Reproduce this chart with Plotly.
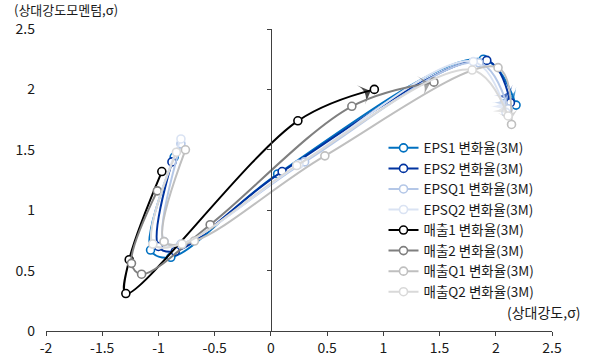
import plotly.graph_objects as go

# Relative-strength (x) vs. relative-strength momentum (y) trails, oldest point first
series_names = [
    "EPS1 변화율(3M)", "EPS2 변화율(3M)", "EPSQ1 변화율(3M)", "EPSQ2 변화율(3M)",
    "매출1 변화율(3M)", "매출2 변화율(3M)", "매출Q1 변화율(3M)", "매출Q2 변화율(3M)",
]
series_colors = ["#0070C0", "#0033A0", "#B4C7E7", "#DAE3F3",
                 "#000000", "#7F7F7F", "#BFBFBF", "#D9D9D9"]

eps1_x = [-0.86, -1.07, -0.89, 0.06, 1.89, 2.18]
eps1_y = [1.44, 0.67, 0.61, 1.30, 2.25, 1.87]
eps2_x = [-0.88, -1.00, -0.85, 0.10, 1.92, 2.13]
eps2_y = [1.40, 0.70, 0.66, 1.32, 2.24, 1.89]
epsq1_x = [-0.80, -0.95, -0.80, 0.30, 1.85, 2.11]
epsq1_y = [1.55, 0.74, 0.72, 1.40, 2.22, 1.84]
epsq2_x = [-0.80, -1.05, -0.79, 0.25, 1.80, 2.09]
epsq2_y = [1.59, 0.72, 0.72, 1.38, 2.23, 1.81]
sales1_x = [-0.97, -1.26, -1.29, 0.24, 0.92]
sales1_y = [1.32, 0.59, 0.31, 1.74, 2.00]
sales2_x = [-1.01, -1.24, -1.15, -0.54, 0.72, 1.45]
sales2_y = [1.16, 0.56, 0.47, 0.88, 1.86, 2.06]
salesq1_x = [-0.76, -0.95, -0.68, 0.48, 2.02, 2.14]
salesq1_y = [1.50, 0.74, 0.745, 1.45, 2.18, 1.71]
salesq2_x = [-0.84, -1.05, -0.79, 0.23, 1.79, 2.11]
salesq2_y = [1.48, 0.72, 0.72, 1.37, 2.16, 1.78]

xs = [eps1_x, eps2_x, epsq1_x, epsq2_x, sales1_x, sales2_x, salesq1_x, salesq2_x]
ys = [eps1_y, eps2_y, epsq1_y, epsq2_y, sales1_y, sales2_y, salesq1_y, salesq2_y]

x_ticks = [-2, -1.5, -1, -0.5, 0, 0.5, 1, 1.5, 2, 2.5]
x_tick_text = ["-2", "-1.5", "-1", "-0.5", "0", "0.5", "1", "1.5", "2", "2.5"]
y_ticks = [0, 0.5, 1, 1.5, 2, 2.5]
y_tick_text = ["0", "0.5", "1", "1.5", "2", "2.5"]

FONT = "Noto Sans CJK KR, Noto Sans, sans-serif"
AXIS_COLOR = "#404040"
TEXT_COLOR = "#1a1a1a"

fig = go.Figure()

for name, color, x, y in zip(series_names, series_colors, xs, ys):
    # smoothed trail with hollow circle markers
    fig.add_trace(go.Scatter(
        x=x, y=y, name=name, mode="lines+markers",
        line=dict(color=color, width=2, shape="spline", smoothing=1),
        marker=dict(symbol="circle", size=8, color="white",
                    line=dict(color=color, width=1.6)),
    ))
    # arrowhead pointing into the latest point
    fig.add_trace(go.Scatter(
        x=x[-2:], y=y[-2:], mode="markers", showlegend=False, hoverinfo="skip",
        marker=dict(symbol="arrow-wide", size=[0, 15], color=color,
                    angleref="previous", standoff=4,
                    line=dict(width=0)),
    ))

# helper trace so the axis through x = 0 is drawn
fig.add_trace(go.Scatter(x=[None], y=[None], yaxis="y2", showlegend=False,
                         hoverinfo="skip"))

fig.update_layout(
    width=589, height=362,
    margin=dict(l=46, r=37, t=29, b=31, autoexpand=False),
    paper_bgcolor="white", plot_bgcolor="white",
    font=dict(family=FONT, size=14, color=TEXT_COLOR),
    showlegend=True,
    legend=dict(
        x=0.667, y=0.657, xanchor="left", yanchor="top",
        bgcolor="rgba(0,0,0,0)", font=dict(size=13.5, color=TEXT_COLOR),
        itemwidth=30, tracegroupgap=0,
    ),
    xaxis=dict(
        range=[-2, 2.5], tickvals=x_ticks, ticktext=x_tick_text,
        showgrid=False, zeroline=False, automargin=False,
        showline=True, linecolor=AXIS_COLOR, linewidth=1,
        ticks="outside", ticklen=4, tickcolor=AXIS_COLOR,
        tickfont=dict(size=14, color=TEXT_COLOR),
    ),
    yaxis=dict(
        range=[0, 2.5], tickvals=y_ticks, ticktext=y_tick_text,
        showgrid=False, zeroline=False, showline=False, ticks="",
        automargin=False, ticklabelstandoff=10,
        tickfont=dict(size=14, color=TEXT_COLOR),
    ),
    yaxis2=dict(
        range=[0, 2.5], tickvals=y_ticks, overlaying="y",
        anchor="free", position=2 / 4.5, side="left",
        showgrid=False, zeroline=False, automargin=False,
        showline=True, linecolor=AXIS_COLOR, linewidth=1,
        ticks="outside", ticklen=4, tickcolor=AXIS_COLOR,
        showticklabels=False,
    ),
    annotations=[
        dict(text="(상대강도모멘텀,σ)", xref="paper", yref="paper",
             x=-0.068, y=1.0, xanchor="left", yanchor="bottom", yshift=8,
             showarrow=False, font=dict(size=13, color=TEXT_COLOR)),
        dict(text="(상대강도,σ)", xref="paper", yref="paper",
             x=1.06, y=0.0, xanchor="right", yanchor="bottom", yshift=7,
             showarrow=False, font=dict(size=14, color=TEXT_COLOR)),
    ],
)

fig.write_html("out.html")
